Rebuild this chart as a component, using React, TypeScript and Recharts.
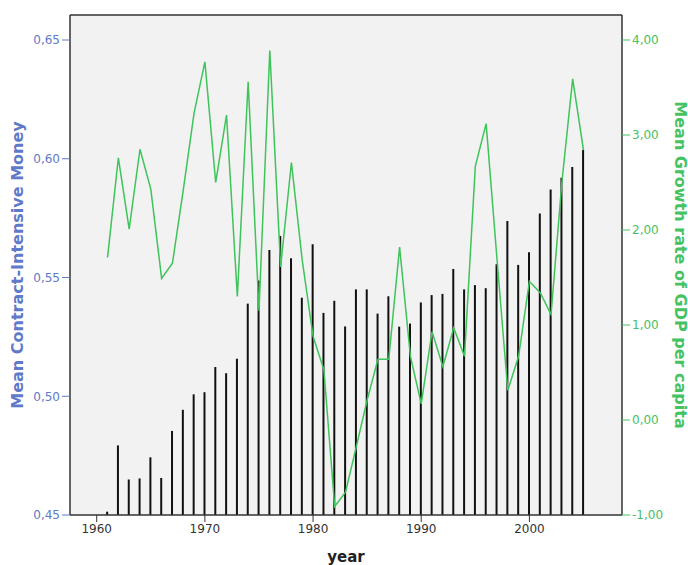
import React from "react";
import {
  ComposedChart,
  Bar,
  Line,
  XAxis,
  YAxis,
  CartesianGrid,
  ReferenceLine,
  Label,
} from "recharts";

const years: number[] = [
  1961, 1962, 1963, 1964, 1965, 1966, 1967, 1968, 1969, 1970, 1971, 1972,
  1973, 1974, 1975, 1976, 1977, 1978, 1979, 1980, 1981, 1982, 1983, 1984,
  1985, 1986, 1987, 1988, 1989, 1990, 1991, 1992, 1993, 1994, 1995, 1996,
  1997, 1998, 1999, 2000, 2001, 2002, 2003, 2004, 2005,
];

// Mean contract-intensive money (bars, left axis)
const cimValues: number[] = [
  0.4514, 0.4793, 0.465, 0.4654, 0.4743, 0.4656, 0.4854, 0.4943, 0.5008,
  0.5017, 0.5123, 0.5097, 0.5158, 0.539, 0.5487, 0.5616, 0.5675, 0.5581,
  0.5415, 0.564, 0.5351, 0.5402, 0.5294, 0.545, 0.545, 0.5348, 0.5421,
  0.5293, 0.5306, 0.5395, 0.5426, 0.5431, 0.5536, 0.545, 0.5468, 0.5455,
  0.5556, 0.5738, 0.5553, 0.5606, 0.5769, 0.5871, 0.592, 0.5965, 0.6037,
];

// Mean growth rate of GDP per capita (line, right axis)
const gdpValues: number[] = [
  1.71, 2.76, 2.01, 2.85, 2.43, 1.49, 1.65, 2.42, 3.23, 3.77, 2.5, 3.21,
  1.3, 3.56, 1.15, 3.89, 1.61, 2.71, 1.68, 0.88, 0.53, -0.91, -0.76, -0.28,
  0.21, 0.64, 0.64, 1.82, 0.67, 0.17, 0.93, 0.56, 0.97, 0.67, 2.67, 3.12,
  1.7, 0.31, 0.67, 1.46, 1.34, 1.11, 2.5, 3.59, 2.84,
];

const xTicks: number[] = [1960, 1970, 1980, 1990, 2000];
const leftTicks: number[] = [0.45, 0.5, 0.55, 0.6, 0.65];
const rightTicks: number[] = [-1, 0, 1, 2, 3, 4];

const data = years.map((year, i) => ({
  year,
  cim: cimValues[i],
  gdp: gdpValues[i],
}));

const FONT = "DejaVu Sans";
const BLUE = "#6079c8";
const GREEN = "#45c262";
const AXIS = "#333333";
const LEFT_MAX = 0.66053;

const comma = (v: number) => v.toFixed(2).replace(".", ",");

const App: React.FC = () => {
  return (
    <div style={{ position: "absolute", left: 0, top: 0, fontFamily: FONT }}>
      <ComposedChart
        width={688}
        height={565}
        data={data}
        margin={{ top: 15, right: 0, bottom: 0, left: 0 }}
      >
        <CartesianGrid
          fill="#f2f2f2"
          horizontal={false}
          vertical={false}
          yAxisId="left"
        />
        <XAxis
          dataKey="year"
          type="number"
          domain={[1957.53, 2008.56]}
          ticks={xTicks}
          height={50}
          tickSize={7}
          tick={{ fill: "#333", fontSize: 12, fontFamily: FONT }}
          tickLine={{ stroke: AXIS }}
          axisLine={{ stroke: AXIS, strokeWidth: 1.5 }}
          allowDataOverflow
        >
          <Label
            content={(props: any) => {
              const vb = props.viewBox;
              return (
                <text
                  x={vb.x + vb.width / 2}
                  y={vb.y + 47}
                  textAnchor="middle"
                  fontFamily={FONT}
                  fontWeight="bold"
                  fontSize={15}
                  fill="#222"
                >
                  year
                </text>
              );
            }}
          />
        </XAxis>
        <YAxis
          yAxisId="left"
          width={70}
          domain={[0.45, LEFT_MAX]}
          ticks={leftTicks}
          tickFormatter={comma}
          tickSize={8}
          tick={{ fill: BLUE, fontSize: 12, fontFamily: FONT }}
          tickLine={{ stroke: BLUE }}
          axisLine={{ stroke: AXIS, strokeWidth: 1.5 }}
          allowDataOverflow
        >
          <Label
            content={(props: any) => {
              const vb = props.viewBox;
              const cx = vb.x + 17.5;
              const cy = vb.y + vb.height / 2;
              return (
                <text
                  x={cx}
                  y={cy}
                  transform={`rotate(-90 ${cx} ${cy})`}
                  textAnchor="middle"
                  dominantBaseline="central"
                  fontFamily={FONT}
                  fontWeight="bold"
                  fontSize={16}
                  fill={BLUE}
                >
                  Mean Contract-Intensive Money
                </text>
              );
            }}
          />
        </YAxis>
        <YAxis
          yAxisId="right"
          orientation="right"
          width={66}
          domain={[-1, 4.263]}
          ticks={rightTicks}
          tickFormatter={comma}
          tickSize={8}
          tick={{ fill: GREEN, fontSize: 12, fontFamily: FONT }}
          tickLine={{ stroke: GREEN }}
          axisLine={{ stroke: AXIS, strokeWidth: 1.5 }}
          allowDataOverflow
        >
          <Label
            content={(props: any) => {
              const vb = props.viewBox;
              const cx = vb.x + 58;
              const cy = vb.y + vb.height / 2;
              return (
                <text
                  x={cx}
                  y={cy}
                  transform={`rotate(90 ${cx} ${cy})`}
                  textAnchor="middle"
                  dominantBaseline="central"
                  fontFamily={FONT}
                  fontWeight="bold"
                  fontSize={16}
                  fill={GREEN}
                >
                  Mean Growth rate of GDP per capita
                </text>
              );
            }}
          />
        </YAxis>
        <ReferenceLine
          yAxisId="left"
          y={LEFT_MAX}
          stroke={AXIS}
          strokeWidth={1.5}
        />
        <Bar
          yAxisId="left"
          dataKey="cim"
          barSize={2}
          fill="#111111"
          isAnimationActive={false}
        />
        <Line
          yAxisId="right"
          dataKey="gdp"
          type="linear"
          stroke="#3ec45a"
          strokeWidth={1.5}
          dot={false}
          isAnimationActive={false}
        />
      </ComposedChart>
    </div>
  );
};

export default App;
